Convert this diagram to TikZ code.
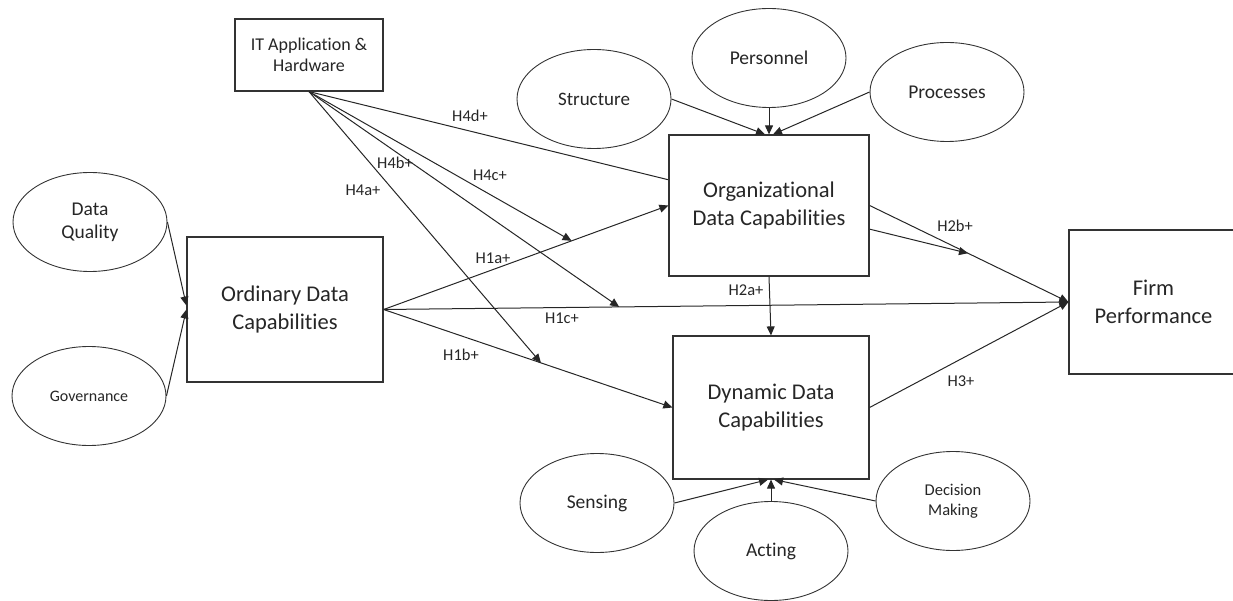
\documentclass[tikz,border=0pt]{standalone}
\usepackage{fontspec}
\setmainfont{Carlito}[Ligatures=NoCommon]
\usetikzlibrary{shapes.geometric,arrows.meta,calc,backgrounds}
\begin{document}
\begin{tikzpicture}[x=1pt,y=-1pt,
  box/.style={draw=black!80, line width=1.2pt, fill=white, rectangle, inner sep=0pt, align=center, text=black!85},
  oval/.style={draw=black!80, line width=0.9pt, fill=white, ellipse, inner sep=0pt, minimum width=154pt, minimum height=99pt, align=center, text=black!85, font=\fontsize{19.5}{23}\selectfont},
  bigtext/.style={font=\fontsize{22.5}{28}\selectfont},
  conn/.style={line width=1pt, draw=black!85, -{Triangle[length=9pt,width=8pt]}},
  lbl/.style={font=\fontsize{16.5}{20}\selectfont, text=black!85, inner sep=0pt},
]
\useasboundingbox (0,0) rectangle (1233,601);

% nodes
\node[box, minimum width=148pt, minimum height=72pt, font=\fontsize{18}{21}\selectfont] (it) at (309,55) {IT Application \&\\Hardware};
\node[oval] (dq) at (90,222) {Data\\Quality};
\node[oval, font=\fontsize{16}{19}\selectfont] (gov) at (89,396) {Governance};
\node[box, bigtext, minimum width=196pt, minimum height=145pt] (ord) at (285,309.5) {Ordinary Data\\Capabilities};
\node[oval, font=\fontsize{19}{23}\selectfont] (struct) at (594,99) {Structure};
\node[oval] (pers) at (769,58) {Personnel};
\node[oval] (proc) at (947,92) {Processes};
\node[box, bigtext, minimum width=200pt, minimum height=141pt] (org) at (769,205.5) {Organizational\\Data Capabilities};
\node[box, bigtext, minimum width=196pt, minimum height=143pt] (dyn) at (771,407.5) {Dynamic Data\\Capabilities};
\node[box, bigtext, minimum width=169pt, minimum height=144pt] (firm) at (1153.5,302) {Firm\\Performance};
\node[oval] (sens) at (597,503) {Sensing};
\node[oval] (act) at (771,551) {Acting};
\node[oval, font=\fontsize{16.5}{20}\selectfont] (dm) at (953,501) {Decision\\Making};

% moderation points
\coordinate (m4c) at ($(ord.east)!0.66!(org.west)$);
\coordinate (m4b) at ($(ord.east)!0.344!(firm.west)$);
\coordinate (m4a) at ($(ord.east)!0.545!(dyn.west)$);
\coordinate (m4d) at ($(org.east)!0.495!(firm.west)$);

% H4d passes behind the Organizational box
\begin{scope}[on background layer]
\draw[conn] (it.south) -- (m4d);
\end{scope}

% antecedents
\draw[conn] (dq.east) -- ([yshift=4pt]ord.west);
\draw[conn] (gov.east) -- (ord.west);
\draw[conn] (struct.east) -- ([xshift=-4pt]org.north);
\draw[conn] (pers.south) -- (org.north);
\draw[conn] (proc.west) -- ([xshift=4pt]org.north);
\draw[conn] (sens.east) -- ([xshift=-3pt]dyn.south);
\draw[conn] (act.north) -- (dyn.south);
\draw[conn] (dm.west) -- ([xshift=3pt]dyn.south);

% main hypotheses
\draw[conn] (ord.east) -- (org.west);
\draw[conn] (ord.east) -- (firm.west);
\draw[conn] (ord.east) -- (dyn.west);
\draw[conn] (org.south) -- (dyn.north);
\draw[conn] (org.east) -- (firm.west);
\draw[conn] (dyn.east) -- (firm.west);

% moderations
\draw[conn] (it.south) -- (m4c);
\draw[conn] (it.south) -- (m4b);
\draw[conn] (it.south) -- (m4a);

% labels
\node[lbl] (l4d) at (470,116) {H4d+};
\node[lbl] (l4c) at (490,175) {H4c+};
\node[lbl] (l4b) at (395,163) {H4b+};
\node[lbl] (l4a) at (363,190) {H4a+};
\node[lbl] (l1a) at (493,258) {H1a+};
\node[lbl] (l1c) at (562,318) {H1c+};
\node[lbl] (l1b) at (461,355) {H1b+};
\node[lbl] (l2a) at (746,290) {H2a+};
\node[lbl] (l2b) at (955,226) {H2b+};
\node[lbl] (l3) at (961,381) {H3+};
\end{tikzpicture}
\end{document}
